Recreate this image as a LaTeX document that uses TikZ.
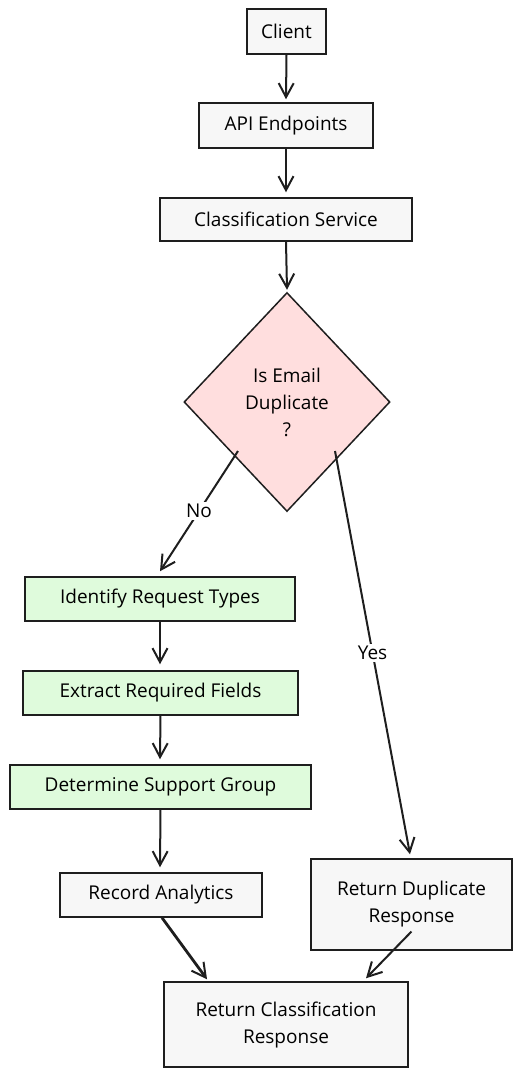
\documentclass[tikz,border=0pt]{standalone}
\usepackage{fontspec}
\setmainfont{Open Sans}
\usetikzlibrary{arrows.meta,shapes.geometric,calc}
\definecolor{strokec}{HTML}{1E1E1E}
\definecolor{grayfill}{HTML}{F7F7F7}
\definecolor{greenfill}{HTML}{DFFBDC}
\definecolor{pinkfill}{HTML}{FFDEDE}
\tikzset{
  box/.style={draw=strokec, line width=1.5pt, fill=grayfill, inner sep=0pt, align=center, text=black, font=\fontsize{19}{27}\selectfont},
  gbox/.style={box, fill=greenfill},
  dia/.style={diamond, draw=strokec, line width=1.5pt, fill=pinkfill, inner sep=0pt, align=center, text=black, font=\fontsize{19}{27}\selectfont},
  conn/.style={draw=strokec, line width=2pt, -{Straight Barb[length=14pt,width=15pt,line width=2pt]}},
  lbl/.style={fill=white, inner sep=2pt, font=\fontsize{19}{20}\selectfont, text=black}
}
\begin{document}
\begin{tikzpicture}[x=1pt,y=-1pt]
\useasboundingbox (0,0) rectangle (522,1077);
\node[box, minimum width=79pt, minimum height=45pt] (client) at (286.5,31.5) {Client};
\node[box, minimum width=174pt, minimum height=45pt] (api) at (286,125.5) {API Endpoints};
\node[box, minimum width=252pt, minimum height=43pt] (cls) at (286,219.5) {Classification Service};
\node[dia, minimum width=206pt, minimum height=219pt] (dup) at (287,402) {Is Email\\Duplicate\\?};
\node[gbox, minimum width=270pt, minimum height=44pt] (ident) at (160,599) {Identify Request Types};
\node[gbox, minimum width=275pt, minimum height=44pt] (extr) at (160.5,693) {Extract Required Fields};
\node[gbox, minimum width=301pt, minimum height=44pt] (det) at (160.5,787) {Determine Support Group};
\node[box, minimum width=202pt, minimum height=44pt] (rec) at (161,895) {Record Analytics};
\node[box, minimum width=201pt, minimum height=91pt] (rdup) at (411.5,904.5) {Return Duplicate\\Response};
\node[box, minimum width=244pt, minimum height=85pt] (rcls) at (286,1024.5) {Return Classification\\Response};
\coordinate (noS) at ($(dup.center)+(-49,49)$);
\coordinate (yesS) at ($(dup.center)+(48,49)$);
\coordinate (recS) at ($(rec.south)+(1,0)$);
\coordinate (rclsA) at ($(rcls.north)+(-79,-2)$);
\coordinate (rdupS) at ($(rdup.center)+(0,27)$);
\coordinate (rclsB) at ($(rcls.north)+(80,-3)$);
\draw[conn] (client.south) -- ($(api.north)+(0,-3)$);
\draw[conn] (api.south) -- ($(cls.north)+(0,-5)$);
\draw[conn] (cls.south) -- ($(dup.north)+(0,-2)$);
\draw[conn] (noS) -- node[lbl, pos=0.5] {No} ($(ident.north)+(0,-5)$);
\draw[conn] (yesS) -- node[lbl, pos=0.5] {Yes} ($(rdup.north)+(-1.5,-4)$);
\draw[conn] (ident.south) -- ($(extr.north)+(-0.5,-6)$);
\draw[conn] (extr.south) -- ($(det.north)+(-0.5,-5)$);
\draw[conn] (det.south) -- ($(rec.north)+(-1,-5)$);
\draw[conn, line width=2.8pt] (recS) -- (rclsA);
\draw[conn] (rdupS) -- (rclsB);
\end{tikzpicture}
\end{document}
